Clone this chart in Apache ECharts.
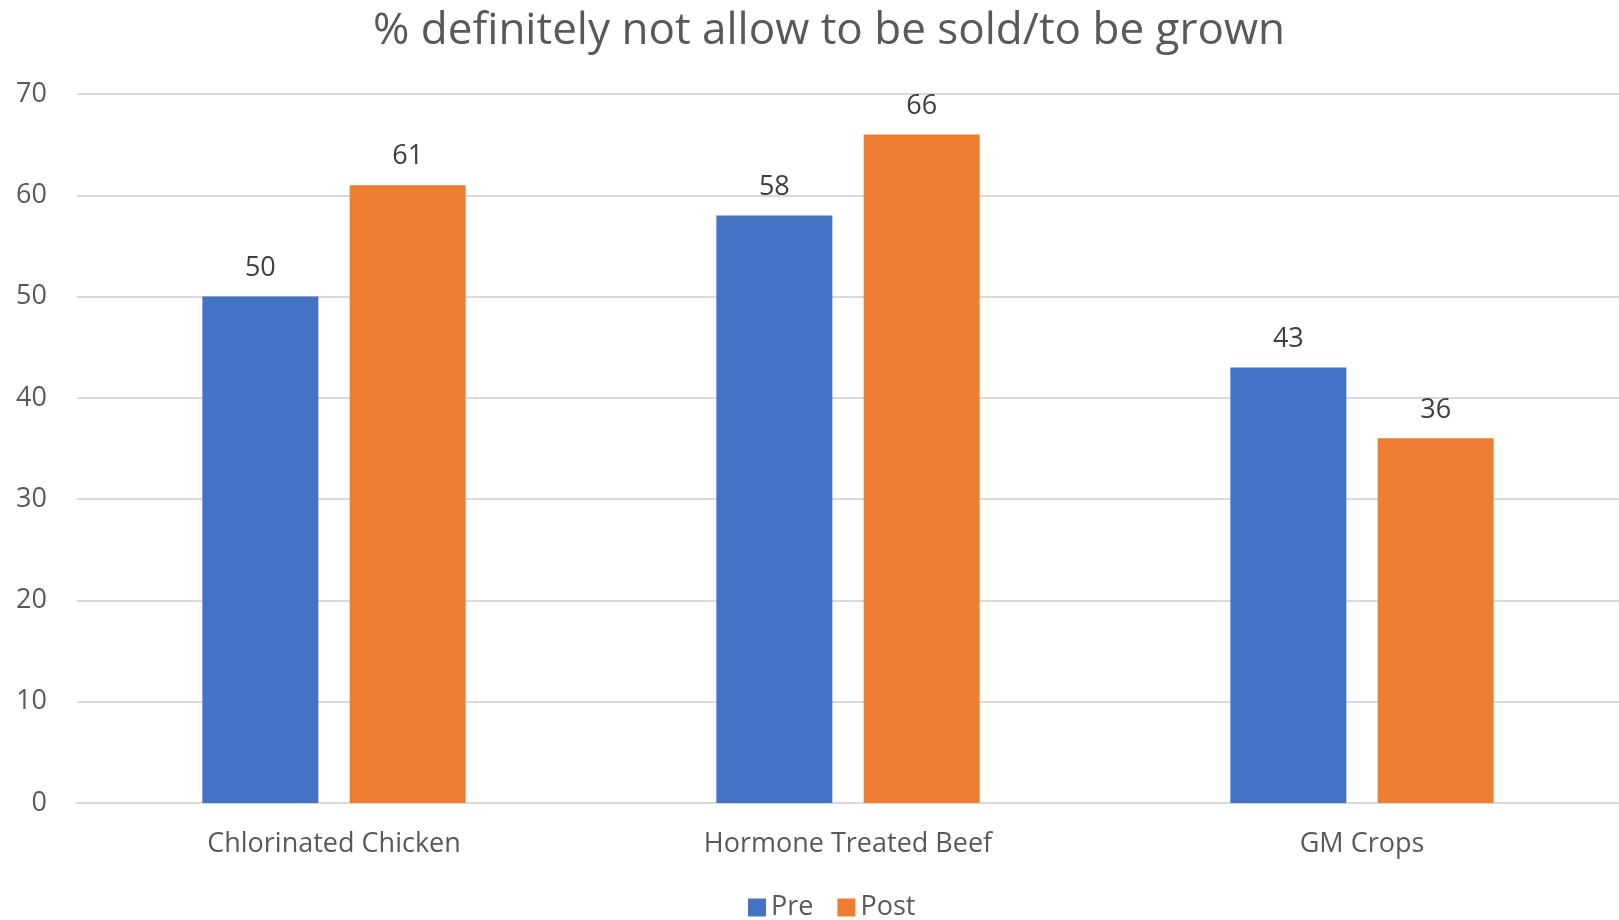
<!DOCTYPE html>
<html><head><meta charset="utf-8">
<script src="https://cdn.jsdelivr.net/npm/echarts@6/dist/echarts.min.js"></script>
<style>html,body{margin:0;padding:0;background:#fff}#c{width:1619px;height:920px}</style>
</head><body><div id="c"></div>
<script>
const categories = ["Chlorinated Chicken", "Hormone Treated Beef", "GM Crops"];
const preValues = [50, 58, 43];
const postValues = [61, 66, 36];
const seriesNames = ["Pre", "Post"];
const titleText = "% definitely not allow to be sold/to be grown";

const FONT = "Open Sans";
const TXT = "#595959";
const chart = echarts.init(document.getElementById('c'));
chart.setOption({
  animation: false,
  title: { text: titleText, left: 824, textAlign: 'center', top: 4,
    textStyle: { fontFamily: FONT, fontSize: 44, fontWeight: 'normal', color: TXT } },
  legend: { data: seriesNames, bottom: -6, left: 743, itemWidth: 18, itemHeight: 18, itemGap: 24,
    icon: 'rect', textStyle: { fontFamily: FONT, fontSize: 27, color: TXT } },
  grid: { left: 77, right: 0, top: 94, bottom: 117, containLabel: false },
  xAxis: { type: 'category', data: categories,
    axisLine: { lineStyle: { color: '#D9D9D9', width: 2 } }, axisTick: { show: false },
    axisLabel: { fontFamily: FONT, fontSize: 27, color: TXT, margin: 28 } },
  yAxis: { type: 'value', min: 0, max: 70, interval: 10,
    axisLine: { show: false }, axisTick: { show: false },
    splitLine: { lineStyle: { color: '#D9D9D9', width: 2 } },
    axisLabel: { fontFamily: FONT, fontSize: 27, color: TXT, margin: 30 } },
  series: [
    { name: seriesNames[0], type: 'bar', data: preValues, barWidth: 116, barGap: '27%',
      itemStyle: { color: '#4472C4' },
      label: { show: true, position: 'top', distance: 15, fontFamily: FONT, fontSize: 27, color: '#404040' } },
    { name: seriesNames[1], type: 'bar', data: postValues, barWidth: 116, barGap: '27%',
      itemStyle: { color: '#ED7D31' },
      label: { show: true, position: 'top', distance: 15, fontFamily: FONT, fontSize: 27, color: '#404040' } }
  ]
});
</script></body></html>
